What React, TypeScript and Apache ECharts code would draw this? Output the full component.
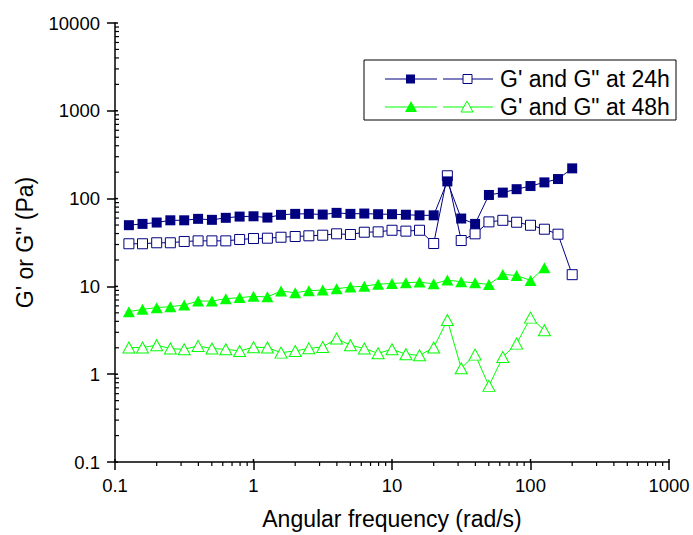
import React, { useEffect, useRef } from "react";
import * as echarts from "echarts";

const freq = [0.126, 0.158, 0.2, 0.251, 0.316, 0.398, 0.501, 0.631, 0.794, 1, 1.26, 1.58, 2, 2.51, 3.16, 3.98, 5.01, 6.31, 7.94, 10, 12.6, 15.8, 20, 25.1, 31.6, 39.8, 50.1, 63.1, 79.4, 100, 126, 158, 200];
const gStorage24 = [49.8, 51.5, 53.4, 56.6, 56.6, 58.8, 57.3, 60.4, 62.4, 62.9, 60.8, 65.3, 67, 67, 65.8, 68.8, 67, 67.6, 66.4, 66.4, 65.5, 64.5, 64.5, 157, 59.3, 51.5, 110, 117, 128, 139, 153, 167, 221];
const gLoss24 = [30.6, 30.6, 31.4, 31.4, 32.5, 33, 33, 33, 34.2, 35.1, 35.4, 36.3, 37, 37.7, 38.3, 39.7, 39, 41.4, 41.8, 43.6, 42.6, 43.6, 30.8, 182, 33.3, 39.7, 54.3, 56.6, 53.8, 49.7, 44.8, 39.3, 13.6];
const gStorage48 = [5.16, 5.48, 5.73, 5.88, 6.13, 6.81, 6.81, 7.25, 7.45, 7.7, 7.6, 8.85, 8.47, 8.93, 9.08, 9.42, 9.82, 10.07, 10.6, 10.8, 11.0, 11.2, 10.7, 11.8, 11.3, 11.0, 10.5, 13.7, 13.3, 11.7, 16.3];
const gLoss48 = [2.01, 2.01, 2.14, 1.96, 1.92, 2.1, 1.96, 1.92, 1.84, 2.03, 2.01, 1.76, 1.84, 1.97, 2.04, 2.55, 2.14, 1.96, 1.73, 1.92, 1.69, 1.64, 2.01, 4.14, 1.17, 1.67, 0.736, 1.57, 2.23, 4.41, 3.16];

const legendLabels = ["G' and G\" at 24h", "G' and G\" at 48h"];
const xDecades = [0.1, 1, 10, 100, 1000];
const yDecades = [0.1, 1, 10, 100, 1000, 10000];
const minorSteps = [2, 3, 4, 5, 6, 7, 8, 9];

const NAVY = "#000080";
const GREEN = "#00ff00";
const FONT = "Arial, 'Liberation Sans', sans-serif";

function pairs(xs: number[], ys: number[]) {
  return ys.map((y, i) => [xs[i], y]);
}

export default function App() {
  const ref = useRef<HTMLDivElement>(null);
  useEffect(() => {
    if (!ref.current) return;
    const chart = echarts.init(ref.current, undefined, { renderer: "svg" });
    // [value on axis, other-axis anchor, kind: 0 minor, 1 major inner part]
    const xTicks: number[][] = [];
    xDecades.forEach((d, i) => {
      xTicks.push([d, 0.1, 1]);
      if (i < xDecades.length - 1) minorSteps.forEach((m) => xTicks.push([+(m * d).toPrecision(3), 0.1, 0]));
    });
    const yTicks: number[][] = [];
    yDecades.forEach((d, i) => {
      yTicks.push([0.1, d, 1]);
      if (i < yDecades.length - 1) minorSteps.forEach((m) => yTicks.push([0.1, +(m * d).toPrecision(3), 0]));
    });

    const lx1 = 385, lx2 = 437, lx3 = 443, lx4 = 493, r1 = 79, r2 = 107;
    chart.setOption({
      animation: false,
      backgroundColor: "#fff",
      grid: { left: 115, right: 24, top: 23, bottom: 72, containLabel: false },
      xAxis: {
        type: "log",
        logBase: 10,
        min: 0.1,
        max: 1000,
        name: "Angular frequency (rad/s)",
        nameLocation: "middle",
        nameGap: 45,
        nameTextStyle: { fontSize: 23, fontFamily: FONT, color: "#000" },
        axisLine: { show: true, onZero: false, lineStyle: { color: "#000", width: 1.5 } },
        axisTick: { show: true, inside: false, length: 8, lineStyle: { color: "#000", width: 1.5 } },
        axisLabel: { fontSize: 18.5, fontFamily: FONT, color: "#000", margin: 14, formatter: (v: number) => String(v) },
        splitLine: { show: false },
        minorTick: { show: false },
      },
      yAxis: {
        type: "log",
        logBase: 10,
        min: 0.1,
        max: 10000,
        name: "G' or G\" (Pa)",
        nameLocation: "middle",
        nameGap: 79,
        nameRotate: 90,
        nameTextStyle: { fontSize: 23, fontFamily: FONT, color: "#000" },
        axisLine: { show: true, onZero: false, lineStyle: { color: "#000", width: 1.5 } },
        axisTick: { show: true, inside: false, length: 8, lineStyle: { color: "#000", width: 1.5 } },
        axisLabel: { fontSize: 18.5, fontFamily: FONT, color: "#000", margin: 15, formatter: (v: number) => String(v) },
        splitLine: { show: false },
        minorTick: { show: false },
      },
      series: [
        {
          type: "line",
          data: pairs(freq, gStorage24),
          symbol: "rect",
          symbolSize: 10,
          itemStyle: { color: NAVY, borderWidth: 0 },
          lineStyle: { color: NAVY, width: 1 },
          z: 4,
        },
        {
          type: "line",
          data: pairs(freq, gLoss24),
          symbol: "rect",
          symbolSize: 10,
          showAllSymbol: true,
          itemStyle: { color: "#fff", borderColor: NAVY, borderWidth: 1 },
          lineStyle: { color: NAVY, width: 1 },
          z: 3,
        },
        {
          type: "line",
          data: pairs(freq, gStorage48),
          symbol: "triangle",
          symbolSize: [12, 11],
          itemStyle: { color: GREEN, borderWidth: 0 },
          lineStyle: { color: GREEN, width: 1 },
          z: 4,
        },
        {
          type: "line",
          data: pairs(freq, gLoss48),
          symbol: "triangle",
          symbolSize: [12, 11],
          itemStyle: { color: "#fff", borderColor: GREEN, borderWidth: 1 },
          lineStyle: { color: GREEN, width: 1 },
          z: 3,
        },
        {
          type: "custom",
          clip: false,
          silent: true,
          data: xTicks,
          renderItem: (params: any, api: any) => {
            const p = api.coord([api.value(0), api.value(1)]);
            const major = api.value(2) === 1;
            return {
              type: "line",
              shape: major ? { x1: p[0], y1: p[1], x2: p[0], y2: p[1] - 3 } : { x1: p[0], y1: p[1], x2: p[0], y2: p[1] + 4 },
              style: { stroke: "#000", lineWidth: major ? 1.5 : 1.2 },
            };
          },
          z: 5,
        },
        {
          type: "custom",
          clip: false,
          silent: true,
          data: yTicks,
          renderItem: (params: any, api: any) => {
            const p = api.coord([api.value(0), api.value(1)]);
            const major = api.value(2) === 1;
            return {
              type: "line",
              shape: { x1: p[0], y1: p[1], x2: p[0] + (major ? 3 : 4), y2: p[1] },
              style: { stroke: "#000", lineWidth: major ? 1.5 : 1.2 },
            };
          },
          z: 5,
        },
      ],
      graphic: [
        { type: "rect", shape: { x: 364, y: 60, width: 312, height: 60 }, style: { fill: "none", stroke: "#000", lineWidth: 1 } },
        { type: "line", shape: { x1: lx1, y1: r1, x2: lx2, y2: r1 }, style: { stroke: NAVY, lineWidth: 1 } },
        { type: "line", shape: { x1: lx3, y1: r1, x2: lx4, y2: r1 }, style: { stroke: NAVY, lineWidth: 1 } },
        { type: "rect", shape: { x: 406, y: r1 - 4.5, width: 9, height: 9 }, style: { fill: NAVY } },
        { type: "rect", shape: { x: 463, y: r1 - 4.5, width: 9, height: 9 }, style: { fill: "#fff", stroke: NAVY, lineWidth: 1 } },
        { type: "text", x: 500, y: r1, style: { text: legendLabels[0], fontSize: 23, fontFamily: FONT, fill: "#000", verticalAlign: "middle" } },
        { type: "line", shape: { x1: lx1, y1: r2, x2: lx2, y2: r2 }, style: { stroke: GREEN, lineWidth: 1 } },
        { type: "line", shape: { x1: lx3, y1: r2, x2: lx4, y2: r2 }, style: { stroke: GREEN, lineWidth: 1 } },
        { type: "polygon", shape: { points: [[411, r2 - 6], [405, r2 + 5], [417, r2 + 5]] }, style: { fill: GREEN } },
        { type: "polygon", shape: { points: [[467, r2 - 6], [461, r2 + 5], [473, r2 + 5]] }, style: { fill: "#fff", stroke: GREEN, lineWidth: 1 } },
        { type: "text", x: 500, y: r2, style: { text: legendLabels[1], fontSize: 23, fontFamily: FONT, fill: "#000", verticalAlign: "middle" } },
      ],
    });
    return () => chart.dispose();
  }, []);
  return <div ref={ref} style={{ position: "fixed", left: 0, top: 0, width: 693, height: 535 }} />;
}
